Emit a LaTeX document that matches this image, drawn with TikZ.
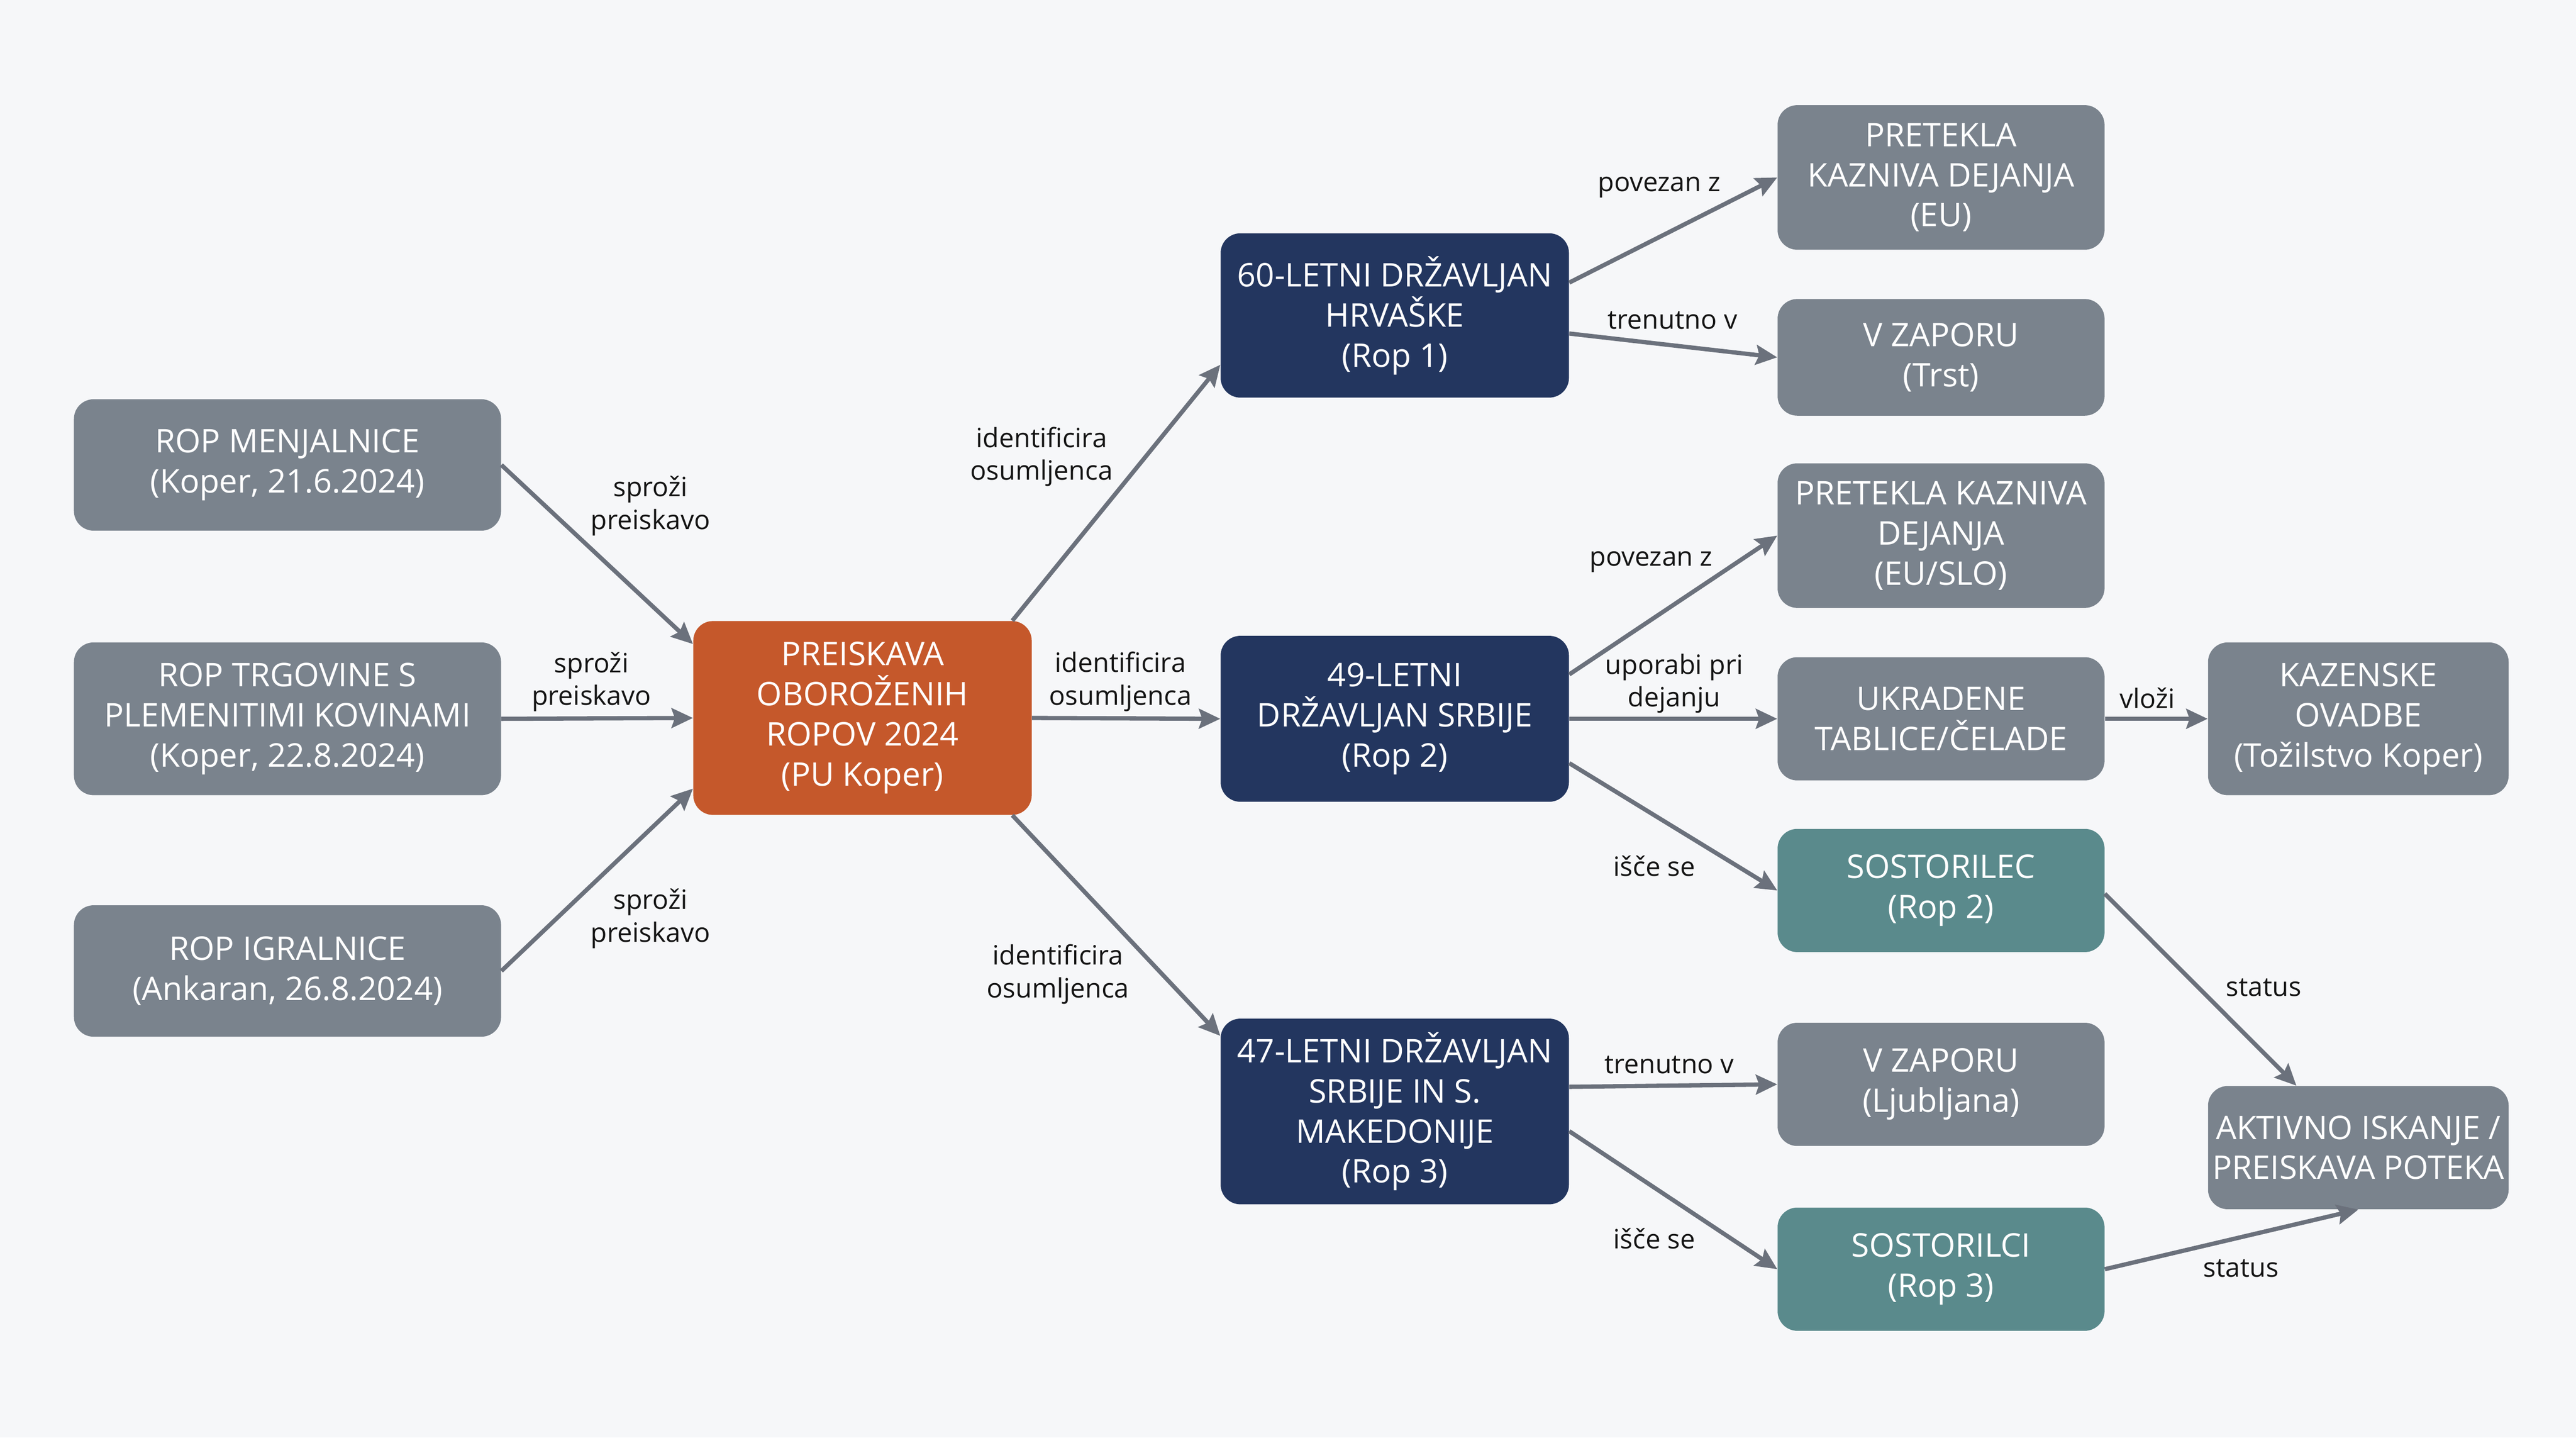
\documentclass[tikz,border=0pt]{standalone}
\usepackage{fontspec}
\setmainfont{Open Sans}
\usetikzlibrary{arrows.meta,calc}
\definecolor{bgc}{HTML}{F6F7F9}
\definecolor{grayc}{HTML}{7A838D}
\definecolor{navyc}{HTML}{23365F}
\definecolor{orangec}{HTML}{C5582B}
\definecolor{tealc}{HTML}{5A8A8C}
\definecolor{arrc}{HTML}{6B717C}
\definecolor{lblc}{HTML}{141414}
\newcommand\uu{0.0351cm}
\tikzset{
  box/.style={rounded corners=12*\uu, inner sep=0pt, align=center, text=white,
    font=\fontsize{19.8}{24.4}\selectfont, execute at begin node={\rule{0pt}{21pt}}},
  gbox/.style={box, fill=grayc},
  nbox/.style={box, fill=navyc},
  obox/.style={box, fill=orangec},
  tbox/.style={box, fill=tealc},
  lbl/.style={align=center, text=lblc, inner sep=0pt, yshift=-0.07cm, font=\fontsize{16.2}{20}\selectfont},
  arr/.style={draw=arrc, line width=2.6pt, -{Stealth[length=13pt,width=12pt,inset=2pt]}},
}
\begin{document}
\begin{tikzpicture}[x=0.0351cm,y=-0.0351cm]
\fill[bgc] (0,0) rectangle (1568,875);
\useasboundingbox (0,0) rectangle (1568,875);

% left column
\node[gbox, minimum width=260*\uu, minimum height=80*\uu] (m1) at (175,283) {ROP MENJALNICE\\(Koper, 21.6.2024)};
\node[gbox, minimum width=260*\uu, minimum height=93*\uu] (m2) at (175,437.5) {ROP TRGOVINE S\\PLEMENITIMI KOVINAMI\\(Koper, 22.8.2024)};
\node[gbox, minimum width=260*\uu, minimum height=80*\uu] (m3) at (175,591) {ROP IGRALNICE\\(Ankaran, 26.8.2024)};

% hub
\node[obox, minimum width=206*\uu, minimum height=118*\uu] (hub) at (525,437) {PREISKAVA\\OBOROŽENIH\\ROPOV 2024\\(PU Koper)};

% suspects
\node[nbox, minimum width=212*\uu, minimum height=100*\uu] (s1) at (849,192) {60-LETNI DRŽAVLJAN\\HRVAŠKE\\(Rop 1)};
\node[nbox, minimum width=212*\uu, minimum height=101*\uu] (s2) at (849,437.5) {49-LETNI\\DRŽAVLJAN SRBIJE\\(Rop 2)};
\node[nbox, minimum width=212*\uu, minimum height=113*\uu] (s3) at (849,676.5) {47-LETNI DRŽAVLJAN\\SRBIJE IN S.\\MAKEDONIJE\\(Rop 3)};

% right column
\node[gbox, minimum width=199*\uu, minimum height=88*\uu] (r1) at (1181.5,108) {PRETEKLA\\KAZNIVA DEJANJA\\(EU)};
\node[gbox, minimum width=199*\uu, minimum height=71*\uu] (r2) at (1181.5,217.5) {V ZAPORU\\(Trst)};
\node[gbox, minimum width=199*\uu, minimum height=88*\uu] (r3) at (1181.5,326) {PRETEKLA KAZNIVA\\DEJANJA\\(EU/SLO)};
\node[gbox, minimum width=199*\uu, minimum height=75*\uu] (r4) at (1181.5,437.5) {UKRADENE\\TABLICE/ČELADE};
\node[tbox, minimum width=199*\uu, minimum height=75*\uu] (r5) at (1181.5,542) {SOSTORILEC\\(Rop 2)};
\node[gbox, minimum width=199*\uu, minimum height=75*\uu] (r6) at (1181.5,660) {V ZAPORU\\(Ljubljana)};
\node[tbox, minimum width=199*\uu, minimum height=75*\uu] (r7) at (1181.5,772.5) {SOSTORILCI\\(Rop 3)};

% far right
\node[gbox, minimum width=183*\uu, minimum height=93*\uu] (f1) at (1435.5,437.5) {KAZENSKE\\OVADBE\\(Tožilstvo Koper)};
\node[gbox, minimum width=183*\uu, minimum height=75*\uu] (f2) at (1435.5,698.5) {AKTIVNO ISKANJE /\\PREISKAVA POTEKA};

% edges
\draw[arr] (m1.east) -- ($(hub.west)+(0,-45)$);
\draw[arr] (m2.east) -- (hub.west);
\draw[arr] (m3.east) -- ($(hub.west)+(0,43)$);
\draw[arr] ($(hub.north east)+(-12,0)$) -- ($(s1.west)+(0,30)$);
\draw[arr] (hub.east) -- (s2.west);
\draw[arr] ($(hub.south east)+(-12,0)$) -- ($(s3.west)+(0,-46)$);
\draw[arr] ($(s1.east)+(0,-20)$) -- (r1.west);
\draw[arr] ($(s1.east)+(0,11)$) -- (r2.west);
\draw[arr] ($(s2.east)+(0,-27)$) -- (r3.west);
\draw[arr] (s2.east) -- (r4.west);
\draw[arr] ($(s2.east)+(0,27)$) -- (r5.west);
\draw[arr] (r4.east) -- (f1.west);
\draw[arr] ($(s3.east)+(0,-15)$) -- (r6.west);
\draw[arr] ($(s3.east)+(0,12)$) -- (r7.west);
\draw[arr] ($(r5.east)+(0,2)$) -- ($(f2.north west)+(54,0)$);
\draw[arr] (r7.east) -- (f2.south);

% labels
\node[lbl] (l1) at (396,306) {sproži\\preiskavo};
\node[lbl] (l2) at (360,413) {sproži\\preiskavo};
\node[lbl] (l3) at (396,557) {sproži\\preiskavo};
\node[lbl] (l4) at (634,276) {identificira\\osumljenca};
\node[lbl] (l5) at (682,413) {identificira\\osumljenca};
\node[lbl] (l6) at (644,591) {identificira\\osumljenca};
\node[lbl] (l7) at (1010,112) {povezan z};
\node[lbl] (l8) at (1018,193) {trenutno v};
\node[lbl] (l9) at (1005,340) {povezan z};
\node[lbl] (l10) at (1019,414) {uporabi pri\\dejanju};
\node[lbl] (l11) at (1007,525) {išče se};
\node[lbl] (l12) at (1307,423) {vloži};
\node[lbl] (l13) at (1016,646) {trenutno v};
\node[lbl] (l14) at (1007,752) {išče se};
\node[lbl] (l15) at (1378,599) {status};
\node[lbl] (l16) at (1364,770) {status};
\end{tikzpicture}
\end{document}
